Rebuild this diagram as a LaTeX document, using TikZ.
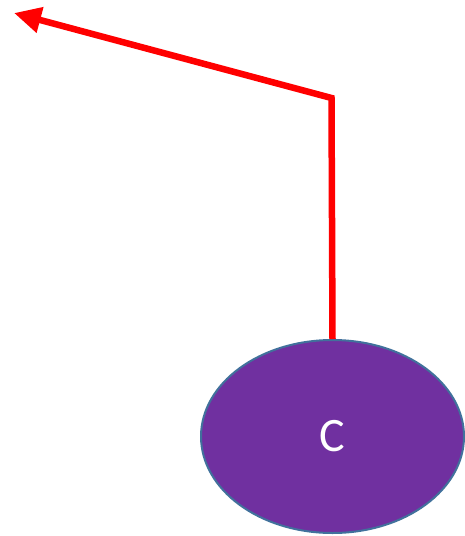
\documentclass[tikz,border=0pt]{standalone}
\usepackage{fontspec}
\setmainfont{Carlito}
\usetikzlibrary{shapes.geometric,arrows.meta}
\definecolor{cpurple}{HTML}{7030A0}
\definecolor{cborder}{HTML}{41719C}
\definecolor{cred}{HTML}{FF0000}
\tikzset{
  blob/.style={ellipse, fill=cpurple, draw=cborder, line width=2pt, minimum width=263pt, minimum height=193pt, inner sep=0pt, text=white, font=\fontsize{48}{54}\selectfont},
  redarrow/.style={draw=cred, line width=6.5pt, -{Triangle[length=27pt,width=25pt]}}
}
\begin{document}
\begin{tikzpicture}[x=1pt,y=-1pt]
\useasboundingbox (0,0) rectangle (465,536);
\node[blob] (c) at (332.5,436.5) {C};
\coordinate (bend) at (331.5,98);
\coordinate (tip) at (14,13);
\draw[redarrow] (c.north) -- (bend) -- (tip);
\end{tikzpicture}
\end{document}
